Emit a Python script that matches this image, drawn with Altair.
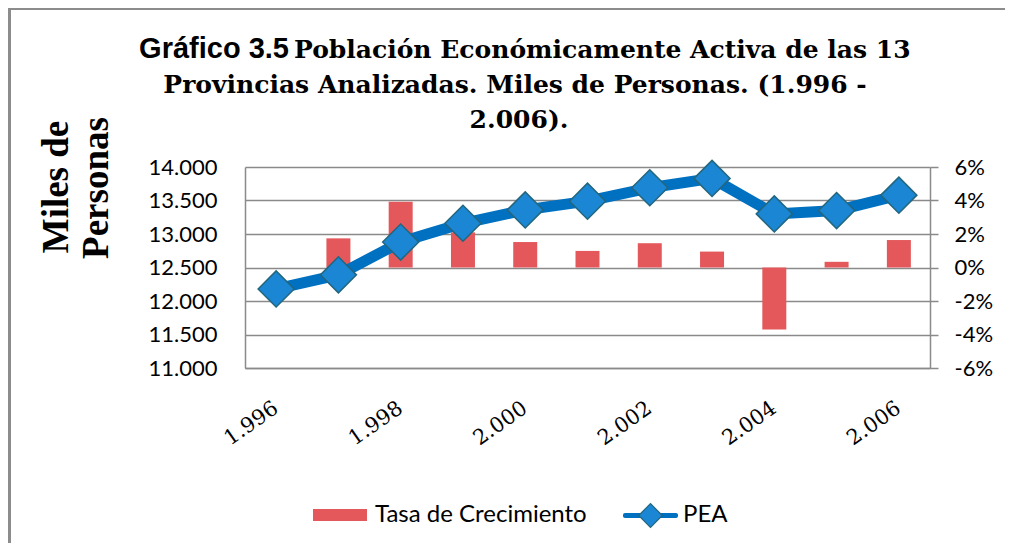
import altair as alt
import pandas as pd

# ---- data ----
years = ["1.996", "1.998", "2.000", "2.002", "2.004", "2.006"]
all_years = ["1.996", "1.997", "1.998", "1.999", "2.000", "2.001",
             "2.002", "2.003", "2.004", "2.005", "2.006"]
pea = [12180, 12390, 12880, 13160, 13360, 13490, 13690, 13830, 13300, 13350, 13580]
tasa = [None, 0.0174, 0.0392, 0.0210, 0.0152, 0.0099, 0.0145, 0.0095, -0.0370, 0.0034, 0.0164]
series = ["Tasa de Crecimiento", "PEA"]
left_ticks = [11000, 11500, 12000, 12500, 13000, 13500, 14000]
right_ticks = [-0.06, -0.04, -0.02, 0.0, 0.02, 0.04, 0.06]

df = pd.DataFrame({"anio": all_years, "pea": pea, "tasa": tasa})

W, H = 685, 201
GRID = "#8a8a8a"
RED = "#E4585B"
BLUE = "#0070C0"
DIAMOND = "#1A86D4"
DIAMOND_EDGE = "#23667E"
SERIF_T = "DejaVu Serif"

x_enc = alt.X("anio:N", sort=all_years,
              scale=alt.Scale(paddingInner=0, paddingOuter=0),
              axis=alt.Axis(values=years, title=None, labelAngle=-35, labelAlign="right",
                            labelBaseline="middle", labelPadding=38, ticks=False,
                            domain=True, domainColor=GRID, domainWidth=1.5,
                            labelFont="DejaVu Serif", labelFontSize=21, labelColor="black"))

bars = alt.Chart(df).mark_bar(size=24, color=RED).encode(
    x=x_enc,
    y=alt.Y("tasa:Q", scale=alt.Scale(domain=[-0.06, 0.06], nice=False, zero=False),
            axis=alt.Axis(orient="right", values=right_ticks, grid=False, title=None,
                          labelExpr="(datum.value < 0 ? '-' : '') + format(abs(datum.value) * 100, '.0f') + '%'",
                          ticks=True, tickSize=8, tickColor=GRID, tickWidth=1.5,
                          domain=True, domainColor=GRID, domainWidth=1.5,
                          labelPadding=16, labelFont="Lato", labelFontSize=22, labelColor="black")),
)

line = alt.Chart(df).mark_line(strokeWidth=11, strokeJoin="round", strokeCap="round",
                               color=BLUE).encode(
    x=x_enc,
    y=alt.Y("pea:Q", scale=alt.Scale(domain=[11000, 14000], nice=False, zero=False),
            axis=alt.Axis(orient="left", values=left_ticks, grid=True, gridColor=GRID,
                          gridWidth=1.5, title=None, ticks=False,
                          domain=True, domainColor=GRID, domainWidth=1.5,
                          labelExpr="replace(format(datum.value, ','), ',', '.')",
                          labelPadding=28, labelFont="Lato", labelFontSize=22, labelColor="black")),
)

points = alt.Chart(df).mark_point(shape="diamond", filled=True, size=1300, fill=DIAMOND,
                                  stroke=DIAMOND_EDGE, strokeWidth=1.5, opacity=1).encode(
    x=x_enc,
    y=alt.Y("pea:Q", scale=alt.Scale(domain=[11000, 14000], nice=False, zero=False), axis=None),
)

one = alt.Data(values=[{"k": 0}])

def txt(text, x, y, **kw):
    return alt.Chart(one).mark_text(text=text, x=x, y=y, **kw)

title_parts = [
    txt("Gráfico 3.5", 44, -109, align="right", baseline="alphabetic",
        font="Liberation Sans", fontWeight="bold", fontSize=29, color="black"),
    txt("Población Económicamente Activa de las 13", 49, -109, align="left", baseline="alphabetic",
        font=SERIF_T, fontWeight="bold", fontSize=25, color="black"),
    txt("Provincias Analizadas. Miles de Personas. (1.996 -", 270, -74, align="center",
        baseline="alphabetic", font=SERIF_T, fontWeight="bold", fontSize=25, color="black"),
    txt("2.006).", 274, -39, align="center", baseline="alphabetic",
        font=SERIF_T, fontWeight="bold", fontSize=25, color="black"),
    txt("Miles de", -188, 20, align="center", baseline="middle", angle=270,
        font="Liberation Serif", fontWeight="bold", fontSize=37, color="black"),
    txt("Personas", -148, 21, align="center", baseline="middle", angle=270,
        font="Liberation Serif", fontWeight="bold", fontSize=37, color="black"),
]

# legend (drawn by hand, bottom centre)
legend_parts = [
    alt.Chart(one).mark_rect(x=68, x2=122, y=342, y2=354, color=RED),
    txt(series[0], 130, 348, align="left", baseline="middle", font="Lato", fontSize=24, color="black"),
    alt.Chart(one).mark_rect(x=378, x2=433, y=346, y2=351, color=BLUE, cornerRadius=2),
    alt.Chart(one).mark_point(x=405.5, y=348.5, shape="diamond", filled=True, size=560,
                              fill=DIAMOND, stroke=DIAMOND_EDGE, strokeWidth=1.2, opacity=1),
    txt(series[1], 438, 348, align="left", baseline="middle", font="Lato", fontSize=24, color="black"),
]

frame_left = alt.Chart(one).mark_rect(x=-237, x2=-234, y=-159, y2=376, color="#8c8c8c")
frame_top = alt.Chart(one).mark_rect(x=-237, x2=760, y=-159, y2=-157, color="#8c8c8c")

chart = alt.layer(frame_left, frame_top, bars, line, points, *title_parts, *legend_parts).resolve_scale(
    y="independent"
).properties(width=W, height=H, padding=0).configure_view(stroke=None)

chart.save("out.html", embed_options={"renderer": "svg", "actions": False})
